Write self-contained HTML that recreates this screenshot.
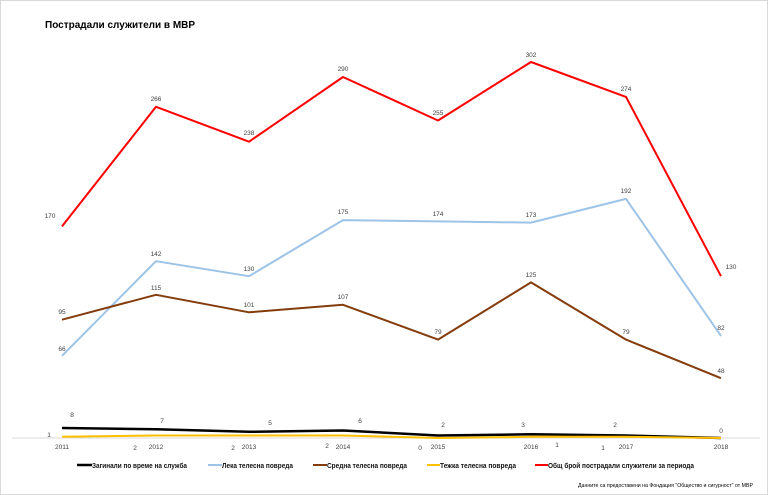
<!DOCTYPE html>
<html><head><meta charset="utf-8"><style>
html,body{margin:0;padding:0;background:#fff;}
svg{display:block;font-family:"Liberation Sans",sans-serif;}
</style></head><body>
<svg width="768" height="495" viewBox="0 0 768 495" xmlns="http://www.w3.org/2000/svg">
<rect x="0.5" y="0.5" width="767" height="494" fill="#fff" stroke="#d9d9d9"/>
<text x="45" y="28" font-size="10" font-weight="bold" fill="#000">Пострадали служители в МВР</text>
<line x1="12" y1="438" x2="760" y2="438" stroke="#d9d9d9" stroke-width="1"/>
<g fill="none" stroke-width="2" stroke-linejoin="round">
<polyline stroke="#ff0000" points="62,226.4 156,106.8 249,141.7 343,77 438,120.5 531,62 626,96.9 721,276.2"/>
<polyline stroke="#9dc3e6" points="62,355.8 156,261.2 249,276.2 343,220.1 438,221.4 531,222.6 626,198.9 721,335.9"/>
<polyline stroke="#843c0c" points="62,319.7 156,294.8 249,312.3 343,304.8 438,339.6 531,282.4 626,339.6 721,378.2"/>
<polyline stroke="#000" stroke-width="2.5" points="62,428 156,429.3 249,431.8 343,430.5 438,435.5 531,434.3 626,435.5 721,438"/>
<polyline stroke="#ffc000" points="62,436.8 156,435.5 249,435.5 343,435.5 438,438 531,436.8 626,436.8 721,438"/>
</g>
<g font-size="6.5" fill="#404040" text-anchor="middle">
<text x="50" y="218">170</text><text x="156" y="101">266</text><text x="249" y="135">238</text><text x="343" y="71">290</text><text x="438" y="115">255</text><text x="531" y="57">302</text><text x="626" y="91">274</text><text x="731" y="269">130</text>
<text x="62" y="351">66</text><text x="156" y="256">142</text><text x="249" y="271">130</text><text x="343" y="214">175</text><text x="438" y="216">174</text><text x="531" y="217">173</text><text x="626" y="193">192</text><text x="721" y="330">82</text>
<text x="62" y="314">95</text><text x="156" y="290">115</text><text x="249" y="307">101</text><text x="343" y="299">107</text><text x="438" y="334">79</text><text x="531" y="277">125</text><text x="626" y="334">79</text><text x="721" y="373">48</text>
<text x="72" y="417">8</text><text x="162" y="423">7</text><text x="270" y="425">5</text><text x="360" y="423">6</text><text x="443" y="427">2</text><text x="523" y="427">3</text><text x="615" y="427">2</text><text x="721" y="433">0</text>
<text x="49" y="437">1</text><text x="135" y="450">2</text><text x="233" y="450">2</text><text x="327" y="448">2</text><text x="420" y="450">0</text><text x="557" y="447">1</text><text x="603" y="450">1</text>
<text x="62" y="449">2011</text><text x="156" y="449">2012</text><text x="249" y="449">2013</text><text x="343" y="449">2014</text><text x="438" y="449">2015</text><text x="531" y="449">2016</text><text x="626" y="449">2017</text><text x="721" y="449">2018</text>
</g>
<g font-size="7.5" fill="#111" font-weight="bold">
<line x1="77" y1="465" x2="92" y2="465" stroke="#000" stroke-width="2.5"/><text x="92" y="468" textLength="95" lengthAdjust="spacingAndGlyphs">Загинали по време на служба</text>
<line x1="208" y1="465" x2="222" y2="465" stroke="#9dc3e6" stroke-width="2"/><text x="222" y="468" textLength="71" lengthAdjust="spacingAndGlyphs">Лека телесна повреда</text>
<line x1="313" y1="465" x2="327" y2="465" stroke="#843c0c" stroke-width="2"/><text x="327" y="468" textLength="80" lengthAdjust="spacingAndGlyphs">Средна телесна повреда</text>
<line x1="427" y1="465" x2="440" y2="465" stroke="#ffc000" stroke-width="2"/><text x="440" y="468" textLength="76" lengthAdjust="spacingAndGlyphs">Тежка телесна повреда</text>
<line x1="535" y1="465" x2="548" y2="465" stroke="#ff0000" stroke-width="2"/><text x="548" y="468" textLength="146" lengthAdjust="spacingAndGlyphs">Общ брой пострадали служители за периода</text>
</g>
<text x="578" y="487" font-size="5.5" fill="#000" textLength="175" lengthAdjust="spacingAndGlyphs">Данните са предоставени на Фондация "Общество и сигурност" от МВР</text>
</svg>
</body></html>
